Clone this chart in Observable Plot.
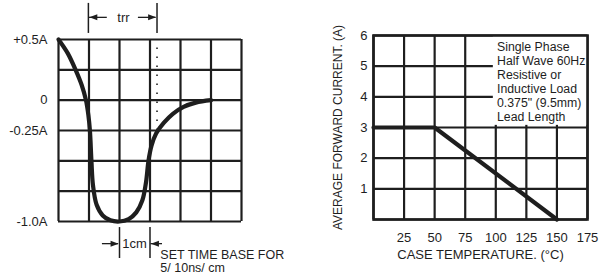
<!DOCTYPE html>
<html>
<head>
<meta charset="utf-8">
<script src="https://cdn.jsdelivr.net/npm/d3@7"></script>
<script src="https://cdn.jsdelivr.net/npm/@observablehq/plot@0.6"></script>
<style>
  html, body { margin: 0; padding: 0; background: #fff; }
  #wrap { position: relative; width: 605px; height: 278px; overflow: hidden; font-family: "Liberation Sans", Arial, sans-serif; }
  #left { position: absolute; left: 0; top: 0; }
  #right { position: absolute; left: 300px; top: 0; }
</style>
</head>
<body>
<div id="wrap"><div id="left"></div><div id="right"></div></div>
<script>
// ---------- Left panel: reverse recovery waveform (grid units) ----------
const gridCols = [0, 1, 2, 3, 4, 5, 6];
const gridRows = [0, 1, 2, 3, 4, 5, 6];
const waveX = [0, 0.3, 0.56, 0.76, 0.9, 0.98, 1.03, 1.08, 1.13, 1.25, 1.45, 1.7, 2.0, 2.3, 2.55, 2.75, 2.87, 2.95, 3.05, 3.2, 3.45, 3.75, 4.1, 4.5, 5.0];
const waveY = [6, 5.55, 5.0, 4.5, 4.0, 3.5, 3.0, 2.0, 1.2, 0.55, 0.2, 0.04, 0, 0.08, 0.3, 0.7, 1.3, 2.0, 2.5, 2.9, 3.25, 3.55, 3.78, 3.92, 4.0];
const leftTickPos = [6, 4, 3, 0];
const leftTickLabels = ["+0.5A", "0", "-0.25A", "-1.0A"];
const trrBarsX = [0.98, 3.23];
const trrLabel = "trr";
const cmBarsX = [2, 3];
const cmLabel = "1cm";
const timeBaseLines = ["SET TIME BASE FOR", "5/ 10ns/ cm"];
const dottedX = 3.23;

// ---------- Right panel: derating curve ----------
const caseTemp = [0, 50, 150];
const avgCurrent = [3, 3, 0];
const tempTicks = [25, 50, 75, 100, 125, 150, 175];
const tempGrid = [0, 25, 50, 75, 100, 125, 150, 175];
const currentTicks = [1, 2, 3, 4, 5, 6];
const currentGrid = [0, 1, 2, 3, 4, 5, 6];
const noteLines = ["Single Phase", "Half Wave 60Hz", "Resistive or", "Inductive Load", "0.375\" (9.5mm)", "Lead Length"];
const xLabel = "CASE TEMPERATURE. (\u00B0C)";
const yLabel = "AVERAGE FORWARD CURRENT. (A)";

const ink = "#1e1e1e";
const font = "Liberation Sans, Arial, sans-serif";

const wave = waveX.map((x, i) => ({x, y: waveY[i]}));

// dimension arrows: shaft + filled head
const dimArrows = [
  {x1: 1.6, x2: trrBarsX[0] + 0.03, y: 6.73, dir: -90},
  {x1: 2.62, x2: trrBarsX[1] - 0.03, y: 6.73, dir: 90},
  {x1: 1.44, x2: cmBarsX[0] - 0.03, y: -0.73, dir: 90},
  {x1: 3.41, x2: cmBarsX[1] + 0.03, y: -0.73, dir: -90}
];

const left = Plot.plot({
  width: 300, height: 278,
  marginLeft: 58, marginRight: 59, marginTop: 39, marginBottom: 57,
  style: {fontFamily: font, fontSize: "13px", color: ink, background: "transparent"},
  x: {domain: [0, 6], axis: null},
  y: {domain: [0, 6], ticks: leftTickPos, tickFormat: d => leftTickLabels[leftTickPos.indexOf(d)], tickSize: 0, tickPadding: 11, label: null},
  marks: [
    Plot.ruleX(gridCols, {y1: 0, y2: 6, stroke: ink, strokeWidth: 2.2}),
    Plot.ruleY(gridRows, {x1: 0, x2: 6, stroke: ink, strokeWidth: 2.2}),
    Plot.ruleX([dottedX], {y1: 3.0, y2: 6, stroke: ink, strokeWidth: 1.6, strokeDasharray: "1.6,7.4"}),
    Plot.line(wave, {x: "x", y: "y", curve: "catmull-rom", stroke: ink, strokeWidth: 4.2}),
    // trr marker
    Plot.ruleX(trrBarsX, {y1: 6.2, y2: 7.19, stroke: ink, strokeWidth: 1.5}),
    Plot.text([trrLabel], {x: 2.13, y: 6.73, text: d => d, fontSize: 13, fill: ink}),
    // 1cm marker
    Plot.ruleX(cmBarsX, {y1: -0.2, y2: -1.22, stroke: ink, strokeWidth: 1.5}),
    Plot.text([cmLabel], {x: 2.49, y: -0.73, text: d => d, fontSize: 13, fill: ink}),
    Plot.ruleY(dimArrows, {x1: "x1", x2: "x2", y: "y", stroke: ink, strokeWidth: 1.3}),
    Plot.vector(dimArrows, {x: "x2", y: "y", rotate: "dir", length: 8, shape: "spike", r: 3, anchor: "end", fill: ink, stroke: "none"}),
    Plot.text(timeBaseLines, {x: 3.34, y: (d, i) => [-1.09, -1.52][i], text: d => d, textAnchor: "start", fontSize: 12.5, fill: ink})
  ]
});
document.getElementById("left").appendChild(left);

const derate = caseTemp.map((t, i) => ({t, a: avgCurrent[i]}));

const right = Plot.plot({
  width: 305, height: 278,
  marginLeft: 73, marginRight: 18, marginTop: 35, marginBottom: 59,
  style: {fontFamily: font, fontSize: "13px", color: ink, background: "transparent"},
  x: {domain: [0, 175], ticks: tempTicks, tickFormat: d => String(d), tickSize: 0, tickPadding: 13, label: null},
  y: {domain: [0, 6], ticks: currentTicks, tickFormat: d => String(d), tickSize: 0, tickPadding: 6, label: null},
  marks: [
    Plot.ruleX(tempGrid, {y1: 0, y2: 6, stroke: ink, strokeWidth: 2.2}),
    Plot.ruleY(currentGrid, {x1: 0, x2: 175, stroke: ink, strokeWidth: 2.2}),
    Plot.rect([{x1: 98, x2: 175, y1: 3.07, y2: 6}], {x1: "x1", x2: "x2", y1: "y1", y2: "y2", fill: "white"}),
    Plot.frame({stroke: ink, strokeWidth: 2.6}),
    Plot.line(derate, {x: "t", y: "a", stroke: ink, strokeWidth: 4.2}),
    Plot.text([noteLines.join("\n")], {x: 101, y: 4.5, text: d => d, textAnchor: "start", lineAnchor: "middle", lineHeight: 1.13, fontSize: 12.3, fill: ink}),
    Plot.text([xLabel], {frameAnchor: "bottom", dy: 39, text: d => d, fontSize: 13, fill: ink}),
    Plot.text([yLabel], {frameAnchor: "left", dx: -35, rotate: -90, textAnchor: "middle", text: d => d, fontSize: 12, fill: ink})
  ]
});
document.getElementById("right").appendChild(right);
</script>
</body>
</html>
